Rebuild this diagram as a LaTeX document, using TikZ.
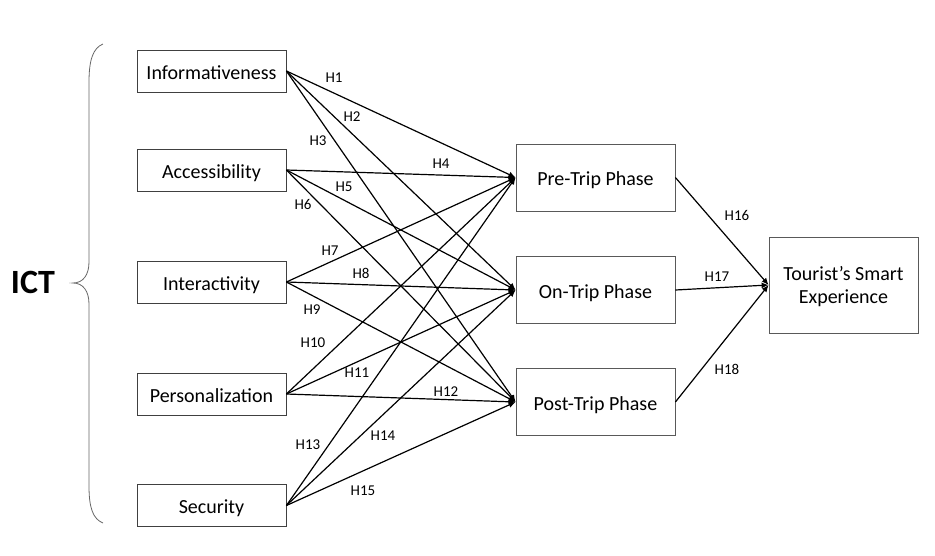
\documentclass[tikz,border=0pt]{standalone}
\usepackage{fontspec}
\setmainfont{Carlito}
\usetikzlibrary{arrows.meta}
\begin{document}
\begin{tikzpicture}[x=1pt,y=-1pt,
  boxtext/.style={font=\fontsize{20}{25}\selectfont, text height=16pt, text depth=0pt},
  construct/.style={boxtext, draw=black!75, line width=0.8pt, minimum width=149pt, minimum height=42pt,
                    inner sep=0pt},
  phase/.style={boxtext, draw=black!65, line width=0.8pt, minimum width=159pt, minimum height=67pt,
                inner sep=0pt},
  outcome/.style={draw=black!65, line width=0.8pt, minimum width=149pt, minimum height=96pt,
                  inner sep=0pt, align=center, font=\fontsize{20}{25}\selectfont},
  link/.style={line width=1.2pt, -{Latex[length=7pt,width=6pt]}},
  hyp/.style={font=\fontsize{15}{18}\selectfont, inner sep=0pt}]
\useasboundingbox (0,0) rectangle (935,555);

% ICT dimensions
\node[construct] (info)  at (211.5,71)  {Informativeness};
\node[construct] (acc)   at (211.5,170) {Accessibility};
\node[construct] (inter) at (211.5,282) {Interactivity};
\node[construct] (pers)  at (211.5,394) {Personalization};
\node[construct] (sec)   at (211.5,505.5) {Security};

% trip phases
\node[phase] (pre)  at (595.5,177.5) {Pre-Trip Phase};
\node[phase] (on)   at (595.5,290)   {On-Trip Phase};
\node[phase] (post) at (595.5,402)   {Post-Trip Phase};

% outcome
\node[outcome] (exp) at (843.5,285) {};
\node[font=\fontsize{20}{25}\selectfont, inner sep=0pt] (exp1) at (843.5,273.5) {Tourist’s Smart};
\node[font=\fontsize{20}{25}\selectfont, inner sep=0pt] (exp2) at (843.5,298.5) {Experience};

% grouping label and brace
\node[font=\fontsize{34}{40}\selectfont\bfseries, inner sep=0pt] (ict) at (33,282) {ICT};
\draw[black!60, line width=0.8pt]
  (103,44) .. controls (93,48) and (89,60) .. (89,82) -- (89,262)
  .. controls (89,275) and (83,283) .. (73,283)
  .. controls (83,283) and (89,291) .. (89,304) -- (89,486)
  .. controls (89,508) and (93,519) .. (103,523);

% hypothesised paths
\foreach \src in {info,acc,inter,pers,sec}{
  \foreach \dst in {pre,on,post}{
    \draw[link] (\src.east) -- (\dst.west);
  }
}
\foreach \src in {pre,on,post}{
  \draw[link] (\src.east) -- (exp.west);
}

% path labels
\node[hyp] (h1)  at (334,78)  {H1};
\node[hyp] (h2)  at (352,117) {H2};
\node[hyp] (h3)  at (318,141) {H3};
\node[hyp] (h4)  at (441,164) {H4};
\node[hyp] (h5)  at (344,187) {H5};
\node[hyp] (h6)  at (303,204) {H6};
\node[hyp] (h7)  at (330,251) {H7};
\node[hyp] (h8)  at (361,273) {H8};
\node[hyp] (h9)  at (312,310) {H9};
\node[hyp] (h10) at (313,343) {H10};
\node[hyp] (h11) at (357,373) {H11};
\node[hyp] (h12) at (446,392) {H12};
\node[hyp] (h13) at (308,445) {H13};
\node[hyp] (h14) at (383,436) {H14};
\node[hyp] (h15) at (363,491) {H15};
\node[hyp] (h16) at (737,215) {H16};
\node[hyp] (h17) at (717,277) {H17};
\node[hyp] (h18) at (727,369) {H18};
\end{tikzpicture}
\end{document}
